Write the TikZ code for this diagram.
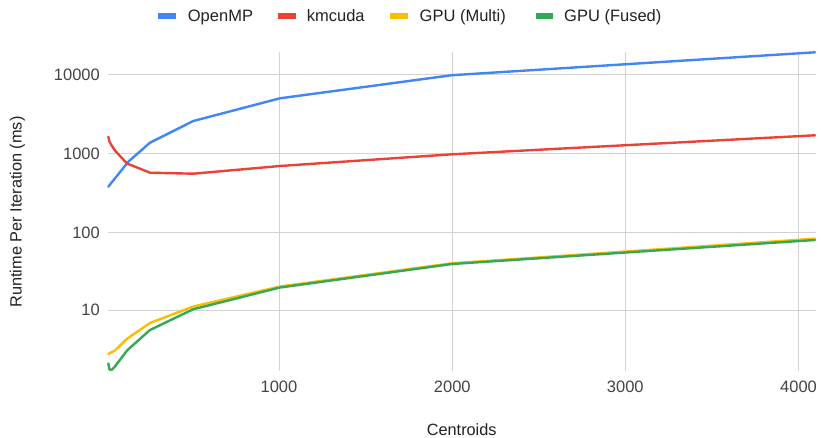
\documentclass[tikz,border=0pt]{standalone}
\usepackage{fontspec}
\setmainfont{Liberation Sans}
\definecolor{cblue}{HTML}{4285F4}
\definecolor{cred}{HTML}{EA4335}
\definecolor{cyellow}{HTML}{FBBC04}
\definecolor{cgreen}{HTML}{34A853}
\definecolor{grid}{HTML}{D3D3D3}
\definecolor{ticktxt}{HTML}{444444}
\definecolor{titletxt}{HTML}{222222}
\tikzset{
  gridline/.style={draw=grid, line width=1pt},
  series/.style={line width=2.4pt, line join=round, line cap=round},
  swatch/.style={line width=6pt},
  legtext/.style={anchor=base west, inner sep=0pt, font=\fontsize{16.5}{18}\selectfont, text=titletxt},
  ytick/.style={anchor=east, inner sep=0pt, font=\fontsize{16.5}{18}\selectfont, text=ticktxt},
  xtick/.style={anchor=center, inner sep=0pt, font=\fontsize{16.5}{18}\selectfont, text=ticktxt},
  axtitle/.style={anchor=center, inner sep=0pt, font=\fontsize{16.3}{18}\selectfont, text=titletxt},
}
\begin{document}
\begin{tikzpicture}[x=1pt, y=-1pt]
\useasboundingbox[fill=white] (0,0) rectangle (821,438);
% grid
\foreach \yy in {75,154,232.7,310} \draw[gridline] (108,\yy) -- (815.5,\yy);
\foreach \xx in {279,452.3,625.3,798.5} \draw[gridline] (\xx,52) -- (\xx,370.7);
% y ticks
\node[ytick] (y4) at (100,75) {10000};
\node[ytick] (y3) at (100,154) {1000};
\node[ytick] (y2) at (100,232.7) {100};
\node[ytick] (y1) at (100,310) {10};
% x ticks
\node[xtick] (x1) at (279,386.7) {1000};
\node[xtick] (x2) at (452.3,386.7) {2000};
\node[xtick] (x3) at (625.3,386.7) {3000};
\node[xtick] (x4) at (798.5,386.7) {4000};
% axis titles
\node[axtitle] (xt) at (461.7,430) {Centroids};
\node[axtitle, rotate=90] (yt) at (17.5,212) {Runtime Per Iteration (ms)};
% series
\draw[series, cblue] (108.3,186.7) -- (112,182) -- (115,178.3) -- (128.3,161.7) -- (150,142.7) -- (193.3,121) -- (280,98.3) -- (452,75.2) -- (815,52.3);
\draw[series, cred] (108.3,136.7) -- (109.5,141.5) -- (111,144.5) -- (115,150.5) -- (120,156) -- (127,163.5) -- (150,172.7) -- (193.3,173.7) -- (280,166) -- (452,154.3) -- (815,135.3);
\draw[series, cyellow] (108.3,354) -- (115,350.5) -- (126.7,339) -- (150,323) -- (193.3,306.5) -- (280,286.5) -- (452,263.3) -- (815,238.7);
\draw[series, cgreen] (108.3,363.5) -- (109.5,369.5) -- (111.5,370) -- (114.5,367) -- (127.5,350) -- (150,330) -- (193.3,309.2) -- (280,287.5) -- (452,264) -- (815,240);
% legend
\draw[swatch, cblue] (158,16) -- (176,16);
\node[legtext] (l1) at (187.7,22) {OpenMP};
\draw[swatch, cred] (277.7,16) -- (295.7,16);
\node[legtext] (l2) at (306.7,22) {kmcuda};
\draw[swatch, cyellow] (390,16) -- (408,16);
\node[legtext] (l3) at (419.5,22) {GPU (Multi)};
\draw[swatch, cgreen] (535.7,16) -- (552.7,16);
\node[legtext] (l4) at (564,22) {GPU (Fused)};
\end{tikzpicture}
\end{document}
